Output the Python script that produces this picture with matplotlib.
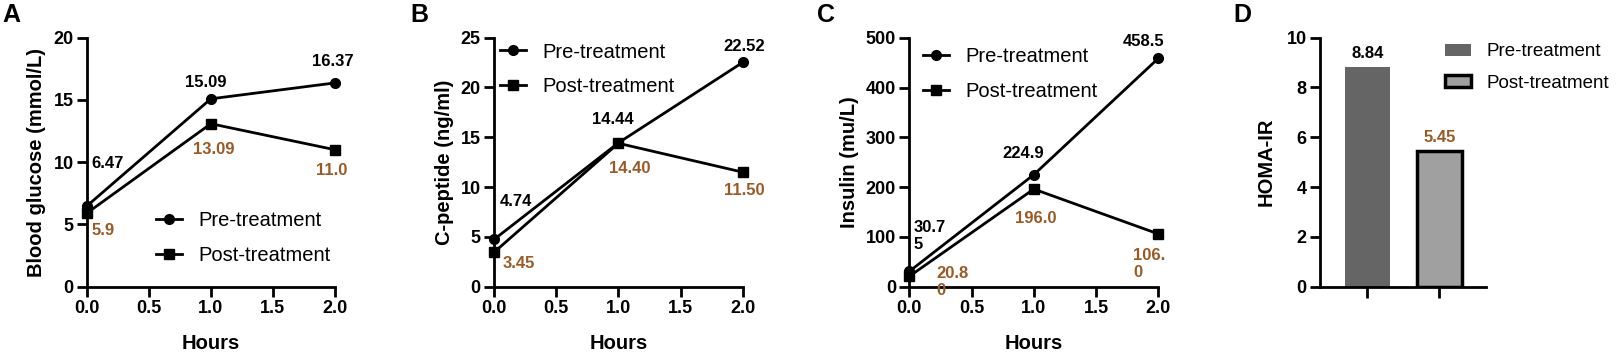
import matplotlib.pyplot as plt
from matplotlib.patches import Patch

plt.rcParams["font.family"] = ["Liberation Sans", "DejaVu Sans"]

hours = [0.0, 1.0, 2.0]

glucose_pre = [6.47, 15.09, 16.37]
glucose_post = [5.9, 13.09, 11.0]
glucose_pre_lbl = ["6.47", "15.09", "16.37"]
glucose_post_lbl = ["5.9", "13.09", "11.0"]

cpep_pre = [4.74, 14.44, 22.52]
cpep_post = [3.45, 14.40, 11.50]
cpep_pre_lbl = ["4.74", "14.44", "22.52"]
cpep_post_lbl = ["3.45", "14.40", "11.50"]

ins_pre = [30.75, 224.9, 458.5]
ins_post = [20.80, 196.0, 106.0]
ins_pre_lbl = ["30.7\n5", "224.9", "458.5"]
ins_post_lbl = ["20.8\n0", "196.0", "106.\n0"]

homa_groups = ["Pre-treatment", "Post-treatment"]
homa_values = [8.84, 5.45]
homa_lbl = ["8.84", "5.45"]

BROWN = "#9a5a24"
W, H = 1616, 357


def axes_rect(left_px, right_px, top_px=37.7, bottom_px=286.7):
    return [left_px / W, 1 - bottom_px / H, (right_px - left_px) / W, (bottom_px - top_px) / H]


def style_axes(ax):
    for s in ["top", "right"]:
        ax.spines[s].set_visible(False)
    for s in ["left", "bottom"]:
        ax.spines[s].set_linewidth(2)
    ax.tick_params(width=2, length=7, labelsize=13, pad=2.5)
    for t in ax.get_xticklabels() + ax.get_yticklabels():
        t.set_fontweight("bold")


def line_panel(ax, pre, post, pre_lbl, post_lbl, pre_off, post_off, ylim, yticks, ylabel, leg_anchor):
    ax.plot(hours, pre, "-o", color="black", lw=2, ms=7, clip_on=False, zorder=3, label="Pre-treatment")
    ax.plot(hours, post, "-s", color="black", lw=2, ms=7, clip_on=False, zorder=3, label="Post-treatment")
    ax.set_xlim(0, 2)
    ax.set_ylim(*ylim)
    ax.set_xticks([0, 0.5, 1.0, 1.5, 2.0])
    ax.set_xticklabels(["0.0", "0.5", "1.0", "1.5", "2.0"])
    ax.set_yticks(yticks)
    ax.set_xlabel("Hours", fontsize=14.5, fontweight="bold", labelpad=12.5)
    ax.set_ylabel(ylabel, fontsize=14.5, fontweight="bold", labelpad=5)
    style_axes(ax)
    for x, y, s, (dx, dy, ha) in zip(hours, pre, pre_lbl, pre_off):
        ax.annotate(s, (x, y), xytext=(dx, dy), textcoords="offset pixels", ha=ha, va="center",
                    fontsize=12, fontweight="bold", color="black", linespacing=1.15, annotation_clip=False)
    for x, y, s, (dx, dy, ha) in zip(hours, post, post_lbl, post_off):
        ax.annotate(s, (x, y), xytext=(dx, dy), textcoords="offset pixels", ha=ha, va="center",
                    fontsize=12, fontweight="bold", color=BROWN, linespacing=1.15, annotation_clip=False)
    ax.legend(loc="upper left", bbox_to_anchor=leg_anchor, frameon=False, fontsize=14.5,
              handlelength=1.3, handletextpad=0.8, labelspacing=0.78, borderaxespad=0, borderpad=0)


fig = plt.figure(figsize=(W / 100, H / 100), dpi=100)

axA = fig.add_axes(axes_rect(86.7, 335))
line_panel(axA, glucose_pre, glucose_post, glucose_pre_lbl, glucose_post_lbl,
           [(5, 43, "left"), (-5, 16, "center"), (-2, 21, "center")],
           [(5, -17, "left"), (3, -26, "center"), (-3, -21, "center")],
           (0, 20), [0, 5, 10, 15, 20], "Blood glucose (mmol/L)",
           ((156 - 86.7) / 248.3, 1 - (211.5 - 37.7) / 249))

axB = fig.add_axes(axes_rect(494, 742.7))
line_panel(axB, cpep_pre, cpep_post, cpep_pre_lbl, cpep_post_lbl,
           [(6, 38, "left"), (-6, 23, "center"), (1, 16, "center")],
           [(9, -11, "left"), (11, -25, "center"), (2, -18, "center")],
           (0, 25), [0, 5, 10, 15, 20, 25], "C-peptide (ng/ml)",
           ((500 - 494) / 248.7, 1 - (42.5 - 37.7) / 249))

axC = fig.add_axes(axes_rect(909.3, 1158.3))
line_panel(axC, ins_pre, ins_post, ins_pre_lbl, ins_post_lbl,
           [(4, 35, "left"), (-11, 21, "center"), (-15, 17, "center")],
           [(27, -6, "left"), (2, -29, "center"), (-25, -30, "left")],
           (0, 500), [0, 100, 200, 300, 400, 500], "Insulin (mu/L)",
           ((923.3 - 909.3) / 249, 1 - (47.5 - 37.7) / 249))

axD = fig.add_axes(axes_rect(1320, 1486))
xpos = [0, 1]
axD.bar(xpos, homa_values, width=0.63, color=["#656565", "#a0a0a0"],
        edgecolor=["#656565", "black"], linewidth=[0, 2.5], zorder=2)
axD.set_xlim(-0.657, 1.65)
axD.set_ylim(0, 10)
axD.set_yticks([0, 2, 4, 6, 8, 10])
axD.set_xticks(xpos)
axD.set_xticklabels([])
axD.set_ylabel("HOMA-IR", fontsize=14.5, fontweight="bold", labelpad=8)
style_axes(axD)
axD.tick_params(axis="x", length=8)
for x, v, s, c in zip(xpos, homa_values, homa_lbl, ["black", BROWN]):
    axD.annotate(s, (x, v), xytext=(0, 13), textcoords="offset pixels", ha="center", va="center",
                 fontsize=12, fontweight="bold", color=c)
handles = [Patch(facecolor="#656565", edgecolor="#656565", linewidth=0),
           Patch(facecolor="#a0a0a0", edgecolor="black", linewidth=2.5)]
axD.legend(handles, homa_groups, loc="upper left", bbox_to_anchor=((1445 - 1320) / 166, 1 - (43.5 - 37.7) / 249),
           frameon=False, fontsize=13.5, handlelength=1.4, handleheight=0.6,
           handletextpad=0.8, labelspacing=0.75, borderaxespad=0, borderpad=0)

for letter, xpx in zip("ABCD", [2, 410, 817, 1233]):
    fig.text(xpx / W, 1 - 3 / H, letter, fontsize=18, fontweight="bold", ha="left", va="top")

fig.savefig("out.png", dpi=100)
